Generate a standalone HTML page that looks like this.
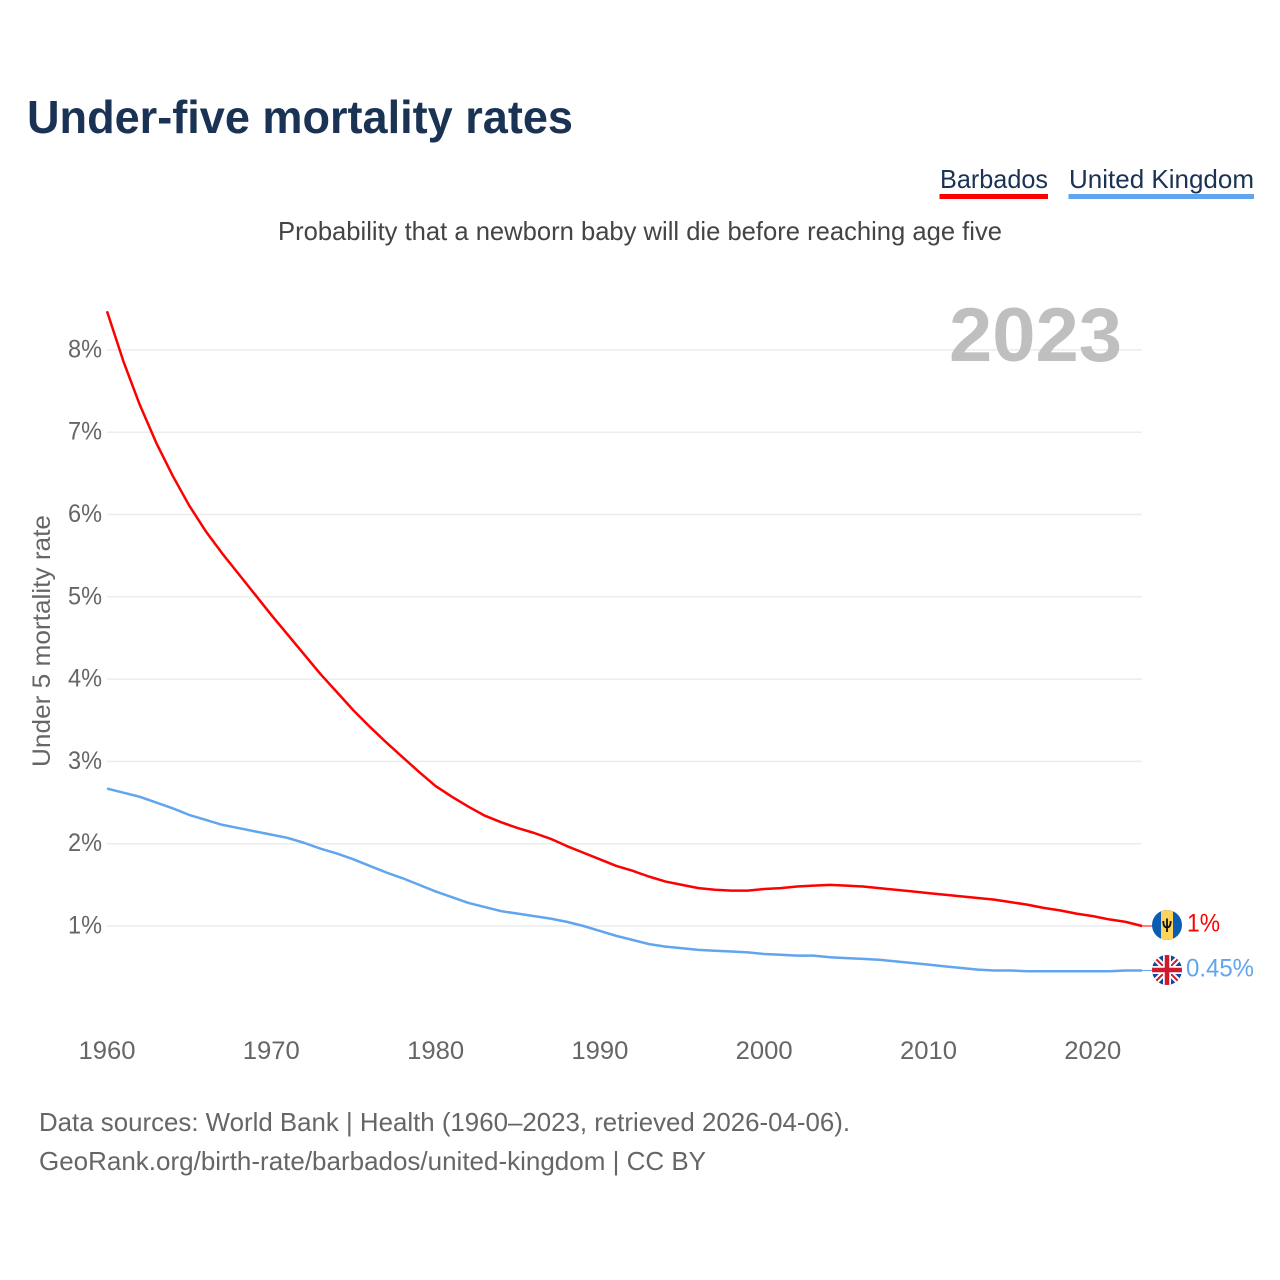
<!DOCTYPE html>
<html lang="en">
<head>
<meta charset="utf-8">
<title>Under-five mortality rates</title>
<style>
html,body{margin:0;padding:0;background:#fff;}
svg{display:block;font-family:"Liberation Sans",sans-serif;}
</style>
</head>
<body>
<svg id="chart" width="1280" height="1280" viewBox="0 0 1280 1280" xmlns="http://www.w3.org/2000/svg">
  <defs>
    <clipPath id="flag-clip-bb"><circle cx="1167" cy="925" r="15"/></clipPath>
    <clipPath id="flag-clip-uk"><circle cx="1167" cy="970" r="15"/></clipPath>
  </defs>
  <rect width="1280" height="1280" fill="#fff"/>
  <text x="27" y="133" font-size="46" font-weight="700" fill="#1a3354" textLength="546" lengthAdjust="spacingAndGlyphs">Under-five mortality rates</text>
  <g>
    <text x="940" y="188" font-size="26" fill="#1a3354" textLength="108" lengthAdjust="spacingAndGlyphs">Barbados</text>
    <rect x="939.5" y="194" width="108.500" height="5" fill="#ff0000"/>
  </g>
  <g>
    <text x="1069" y="188" font-size="26" fill="#1a3354" textLength="185" lengthAdjust="spacingAndGlyphs">United Kingdom</text>
    <rect x="1068.500" y="194" width="185.500" height="5" fill="#60a5ee"/>
  </g>
  <text x="278" y="240" font-size="26" fill="#444" textLength="724" lengthAdjust="spacingAndGlyphs">Probability that a newborn baby will die before reaching age five</text>
  <g id="grid"></g>
  <text x="949" y="361" font-size="76" font-weight="700" fill="#bfbfbf" textLength="173" lengthAdjust="spacingAndGlyphs">2023</text>
  <g id="yticks"></g>
  <g id="xticks"></g>
  <text transform="translate(50 767) rotate(-90)" font-size="25" fill="#666" textLength="252" lengthAdjust="spacingAndGlyphs">Under 5 mortality rate</text>
  <g id="series"></g>

  <g clip-path="url(#flag-clip-bb)">
    <rect x="1152" y="910" width="30" height="30" fill="#0b5db3"/>
    <rect x="1161" y="910" width="12" height="30" fill="#fdd35c"/>
    <path d="M1167 918.500V932M1163.300 921c0 5 1.500 6.500 3.700 6.500s3.700-1.500 3.700-6.500" fill="none" stroke="#111" stroke-width="1.800"/>
  </g>
  <g clip-path="url(#flag-clip-uk)">
    <rect x="1152" y="955" width="30" height="30" fill="#0f4a9e"/>
    <path d="M1152 955L1182 985M1182 955L1152 985" stroke="#fff" stroke-width="6"/>
    <path d="M1152 955L1182 985M1182 955L1152 985" stroke="#d0182f" stroke-width="2"/>
    <path d="M1167 955V985M1152 970H1182" stroke="#fff" stroke-width="8"/>
    <path d="M1167 955V985M1152 970H1182" stroke="#d0182f" stroke-width="4.500"/>
  </g>
  <text x="1187" y="931.5" font-size="25" fill="#ff0000" textLength="33" lengthAdjust="spacingAndGlyphs">1%</text>
  <text x="1186" y="976.5" font-size="25" fill="#60a5ee" textLength="68" lengthAdjust="spacingAndGlyphs">0.45%</text>

  <text x="39" y="1131" font-size="26" fill="#666" textLength="811" lengthAdjust="spacingAndGlyphs">Data sources: World Bank | Health (1960–2023, retrieved 2026-04-06).</text>
  <text x="39" y="1170" font-size="26" fill="#666" textLength="667" lengthAdjust="spacingAndGlyphs">GeoRank.org/birth-rate/barbados/united-kingdom | CC BY</text>
</svg>
<script>
const startYear = 1960;
const barbadosValues = [8.47,7.86,7.33,6.87,6.47,6.11,5.80,5.53,5.28,5.03,4.78,4.54,4.30,4.06,3.84,3.62,3.42,3.23,3.05,2.87,2.70,2.57,2.45,2.34,2.26,2.19,2.13,2.06,1.97,1.89,1.81,1.73,1.67,1.60,1.54,1.50,1.46,1.44,1.43,1.43,1.45,1.46,1.48,1.49,1.50,1.49,1.48,1.46,1.44,1.42,1.40,1.38,1.36,1.34,1.32,1.29,1.26,1.22,1.19,1.15,1.12,1.08,1.05,1.00];
const ukValues = [2.67,2.62,2.57,2.50,2.43,2.35,2.29,2.23,2.19,2.15,2.11,2.07,2.01,1.94,1.88,1.81,1.73,1.65,1.58,1.50,1.42,1.35,1.28,1.23,1.18,1.15,1.12,1.09,1.05,1.00,0.94,0.88,0.83,0.78,0.75,0.73,0.71,0.70,0.69,0.68,0.66,0.65,0.64,0.64,0.62,0.61,0.60,0.59,0.57,0.55,0.53,0.51,0.49,0.47,0.46,0.46,0.45,0.45,0.45,0.45,0.45,0.45,0.46,0.46];
const yTickValues = [1,2,3,4,5,6,7,8];
const yTickLabels = ["1%","2%","3%","4%","5%","6%","7%","8%"];
const xTickValues = [1960,1970,1980,1990,2000,2010,2020];
const xTickLabels = ["1960","1970","1980","1990","2000","2010","2020"];

const NS = "http://www.w3.org/2000/svg";
const xScale = function (year) { return 107 + (year - 1960) * 16.43; };
const yScale = function (value) { return 926 - (value - 1) * 82.3; };

const grid = document.getElementById("grid");
const yticks = document.getElementById("yticks");
const xticks = document.getElementById("xticks");
const series = document.getElementById("series");

yTickValues.forEach(function (v, i) {
  const line = document.createElementNS(NS, "line");
  
  
  line.setAttribute("x1", 107);
  line.setAttribute("x2", 1142);
  line.setAttribute("y1", yScale(v));
  line.setAttribute("y2", yScale(v));
  line.setAttribute("stroke", "#ececec");
  line.setAttribute("stroke-width", 1.5);
  grid.appendChild(line);

  const t = document.createElementNS(NS, "text");
  
  
  t.setAttribute("x", 68);
  t.setAttribute("y", yScale(v) + 7.5);
  t.setAttribute("font-size", 25);
  t.setAttribute("fill", "#666");
  t.setAttribute("textLength", 34);
  t.setAttribute("lengthAdjust", "spacingAndGlyphs");
  t.textContent = yTickLabels[i];
  yticks.appendChild(t);
});

xTickValues.forEach(function (v, i) {
  const t = document.createElementNS(NS, "text");
  
  
  t.setAttribute("x", xScale(v) - 28.500);
  t.setAttribute("y", 1059);
  t.setAttribute("font-size", 25);
  t.setAttribute("fill", "#666");
  t.setAttribute("textLength", 57);
  t.setAttribute("lengthAdjust", "spacingAndGlyphs");
  t.textContent = xTickLabels[i];
  xticks.appendChild(t);
});

function buildPoints(values) {
  return values.map(function (v, i) {
    return xScale(startYear + i).toFixed(2) + "," + yScale(v).toFixed(2);
  }).join(" ");
}

const ukLine = document.createElementNS(NS, "polyline");


ukLine.setAttribute("points", buildPoints(ukValues));
ukLine.setAttribute("fill", "none");
ukLine.setAttribute("stroke", "#60a5ee");
ukLine.setAttribute("stroke-width", 2.5);
ukLine.setAttribute("stroke-linejoin", "round");
series.appendChild(ukLine);

const bbLine = document.createElementNS(NS, "polyline");


bbLine.setAttribute("points", buildPoints(barbadosValues));
bbLine.setAttribute("fill", "none");
bbLine.setAttribute("stroke", "#ff0000");
bbLine.setAttribute("stroke-width", 2.5);
bbLine.setAttribute("stroke-linejoin", "round");
series.appendChild(bbLine);

const ukLead = document.createElementNS(NS, "line");


ukLead.setAttribute("x1", xScale(2023));
ukLead.setAttribute("x2", 1153);
ukLead.setAttribute("y1", yScale(ukValues[ukValues.length - 1]));
ukLead.setAttribute("y2", yScale(ukValues[ukValues.length - 1]));
ukLead.setAttribute("stroke", "#60a5ee");
ukLead.setAttribute("stroke-width", 1);
series.appendChild(ukLead);

const bbLead = document.createElementNS(NS, "line");


bbLead.setAttribute("x1", xScale(2023));
bbLead.setAttribute("x2", 1153);
bbLead.setAttribute("y1", yScale(barbadosValues[barbadosValues.length - 1]));
bbLead.setAttribute("y2", yScale(barbadosValues[barbadosValues.length - 1]));
bbLead.setAttribute("stroke", "#ff0000");
bbLead.setAttribute("stroke-width", 1);
series.appendChild(bbLead);
</script>
</body>
</html>
